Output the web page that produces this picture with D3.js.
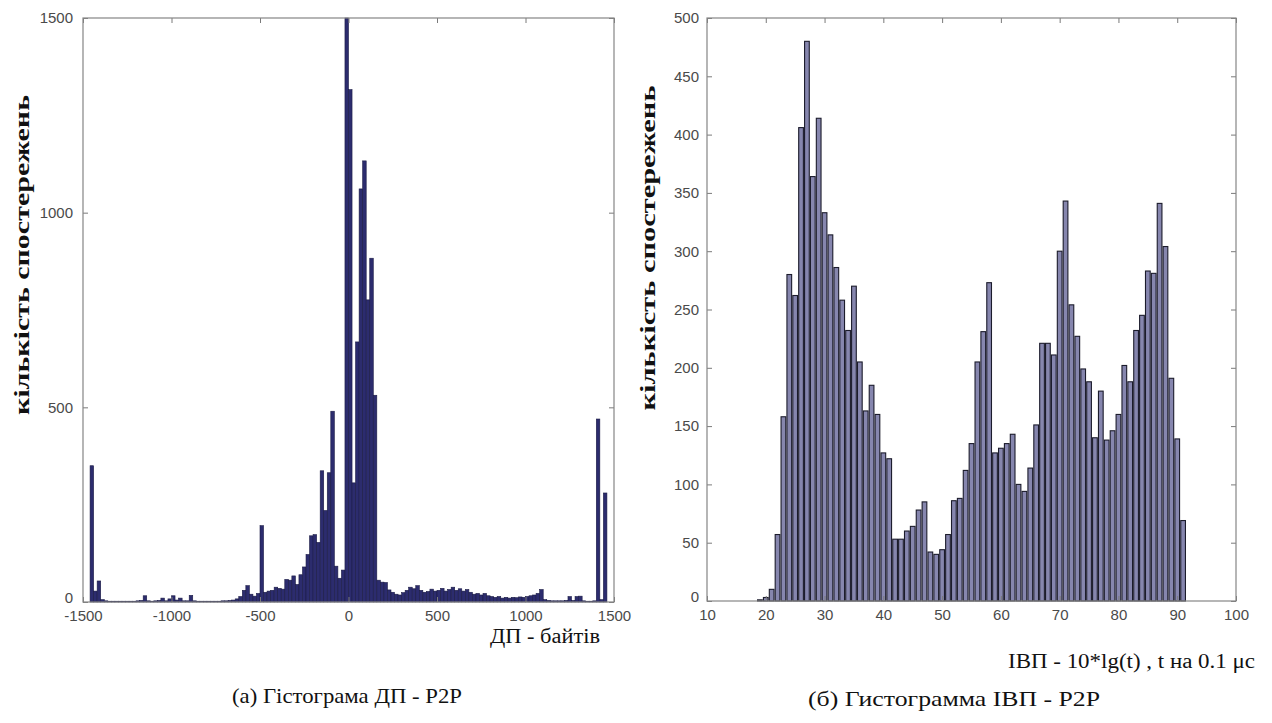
<!DOCTYPE html>
<html>
<head>
<meta charset="utf-8">
<script src="https://cdn.jsdelivr.net/npm/d3@7"></script>
<style>
  html, body { margin: 0; padding: 0; background: #fff; }
  svg { display: block; }
  .tick text { font-family: "Liberation Sans", Arial, sans-serif; fill: #4a4a4a; }
</style>
</head>
<body>
<svg id="chart" width="1272" height="723"></svg>
<script>
// ---------- Data: (a) histogram of packet length difference (ДП), bins of 20 bytes from -1500 ----------
const dpBinStart = -1500;
const dpBinWidth = 20;
const dpCounts = [
  0, 0, 350, 28, 54, 6, 3, 2, 2, 2,
  2, 2, 2, 2, 2, 3, 4, 16, 3, 2,
  3, 4, 10, 3, 8, 16, 5, 10, 3, 3,
  17, 3, 2, 2, 2, 2, 2, 2, 2, 3,
  3, 4, 5, 8, 14, 30, 42, 20, 15, 22,
  196, 25, 28, 30, 38, 35, 33, 58, 56, 67,
  45, 70, 90, 122, 170, 173, 153, 337, 235, 332,
  490, 92, 61, 82, 1500, 1316, 306, 668, 1061, 1133,
  776, 883, 531, 56, 51, 50, 31, 25, 20, 18,
  24, 30, 38, 34, 42, 30, 25, 27, 33, 28,
  30, 35, 28, 32, 38, 30, 34, 28, 32, 25,
  20, 22, 18, 22, 16, 14, 12, 14, 10, 12,
  10, 12, 11, 13, 12, 14, 16, 18, 22, 32,
  6, 4, 3, 3, 3, 3, 4, 14, 4, 14,
  15, 3, 2, 2, 3, 470, 6, 280, 0, 0
];
const dpXTicks = [-1500, -1000, -500, 0, 500, 1000, 1500];
const dpYTicks = [0, 500, 1000, 1500];

// ---------- Data: (б) histogram of inter-arrival time (ІВП), 10*lg(t) ----------
const ivpBins = [19, 20, 21, 22, 23, 24, 25, 26, 27, 28, 29, 30, 31, 32, 33, 34, 35, 36, 37, 38,
  39, 40, 41, 42, 43, 44, 45, 46, 47, 48, 49, 50, 51, 52, 53, 54, 55, 56, 57, 58,
  59, 60, 61, 62, 63, 64, 65, 66, 67, 68, 69, 70, 71, 72, 73, 74, 75, 76, 77, 78,
  79, 80, 81, 82, 83, 84, 85, 86, 87, 88, 89, 90, 91];
const ivpCounts = [1, 3, 10, 57, 158, 280, 262, 406, 480, 364, 414, 333, 314, 286, 258, 232, 270, 205, 163, 185,
  160, 127, 122, 53, 53, 60, 64, 78, 85, 42, 40, 44, 57, 86, 88, 112, 135, 205, 231, 273,
  127, 131, 135, 143, 100, 94, 114, 151, 221, 221, 211, 300, 343, 254, 227, 199, 188, 140, 180, 138,
  146, 160, 202, 188, 232, 245, 283, 281, 341, 304, 191, 139, 69];
const ivpXTicks = [10, 20, 30, 40, 50, 60, 70, 80, 90, 100];
const ivpYTicks = [0, 50, 100, 150, 200, 250, 300, 350, 400, 450, 500];

// ---------- Texts ----------
const yLabel = "кількість спостережень";
const dpXLabel = "ДП - байтів";
const ivpXLabel = "ІВП - 10*lg(t) , t на 0.1 μс";
const captionA = "(а) Гістограма  ДП - P2P";
const captionB = "(б) Гистограмма  ІВП - P2P";

const svg = d3.select("#chart");
svg.append("rect").attr("width", 1272).attr("height", 723).attr("fill", "#fff");

const serif = "'Liberation Serif', 'Times New Roman', serif";

function drawFrame(g, x, y, xTicks, yTicks, opts) {
  const [x0, x1] = x.range();
  const [y0, y1] = y.range();
  const tickColor = "#7a7a7a";
  const ax = g.append("g").attr("transform", `translate(0,${y0})`)
    .call(d3.axisBottom(x).tickValues(xTicks).tickSize(-5).tickPadding(opts.xPad).tickFormat(d => String(d)));
  ax.selectAll("text").attr("font-size", opts.fs);
  const at = g.append("g").attr("transform", `translate(0,${y1})`)
    .call(d3.axisTop(x).tickValues(xTicks).tickSize(-5).tickFormat(""));
  const al = g.append("g").attr("transform", `translate(${x0},0)`)
    .call(d3.axisLeft(y).tickValues(yTicks).tickSize(-5).tickPadding(opts.yPad).tickFormat(d => String(d)));
  al.selectAll("text").attr("font-size", opts.fs);
  // MATLAB-style: lowest y label sits a little higher, clear of the x labels
  al.selectAll(".tick").filter(d => d === 0).select("text").attr("dy", "0.05em");
  const ar = g.append("g").attr("transform", `translate(${x1},0)`)
    .call(d3.axisRight(y).tickValues(yTicks).tickSize(-5).tickFormat(""));
  [ax, at, al, ar].forEach(a => {
    a.select(".domain").remove();
    a.selectAll("line").attr("stroke", tickColor).attr("stroke-width", 1);
  });
  g.append("rect")
    .attr("x", x0).attr("y", y1).attr("width", x1 - x0).attr("height", y0 - y1)
    .attr("fill", "none").attr("stroke", "#858585").attr("stroke-width", 1.2);
}

// ---------- Chart (a) ----------
const xA = d3.scaleLinear().domain([-1500, 1500]).range([83, 614]);
const yA = d3.scaleLinear().domain([0, 1500]).range([602, 18]);
const gA = svg.append("g");
const dpData = dpCounts.map((c, i) => ({ x0: dpBinStart + i * dpBinWidth, x1: dpBinStart + (i + 1) * dpBinWidth, c }));
gA.append("g").selectAll("rect").data(dpData.filter(d => d.c > 0)).join("rect")
  .attr("x", d => xA(d.x0))
  .attr("width", d => xA(d.x1) - xA(d.x0))
  .attr("y", d => yA(d.c))
  .attr("height", d => yA(0) - yA(d.c))
  .attr("fill", "#2c2c6e")
  .attr("stroke", "#1b1b45")
  .attr("stroke-width", 0.6);
drawFrame(gA, xA, yA, dpXTicks, dpYTicks, { fs: 15, xPad: 8, yPad: 10 });

// ---------- Chart (б) ----------
const xB = d3.scaleLinear().domain([10, 100]).range([707, 1236]);
const yB = d3.scaleLinear().domain([0, 500]).range([601, 18]);
const gB = svg.append("g");
const bw = (xB(11) - xB(10)) * 0.8;
gB.append("g").selectAll("rect").data(ivpBins.map((b, i) => ({ b, c: ivpCounts[i] }))).join("rect")
  .attr("x", d => xB(d.b) - bw / 2)
  .attr("width", bw)
  .attr("y", d => yB(d.c))
  .attr("height", d => yB(0) - yB(d.c))
  .attr("fill", "#8686ae")
  .attr("stroke", "#1c1c2c")
  .attr("stroke-width", 1.1);
drawFrame(gB, xB, yB, ivpXTicks, ivpYTicks, { fs: 15, xPad: 8, yPad: 8 });

// ---------- Texts ----------
svg.append("text")
  .attr("transform", "translate(29,255) rotate(-90)")
  .attr("text-anchor", "middle")
  .attr("font-family", serif).attr("font-weight", "bold").attr("font-size", 22)
  .attr("textLength", 320).attr("lengthAdjust", "spacingAndGlyphs")
  .attr("fill", "#111").text(yLabel);
svg.append("text")
  .attr("transform", "translate(655,248) rotate(-90)")
  .attr("text-anchor", "middle")
  .attr("font-family", serif).attr("font-weight", "bold").attr("font-size", 22)
  .attr("textLength", 325).attr("lengthAdjust", "spacingAndGlyphs")
  .attr("fill", "#111").text(yLabel);

svg.append("text").attr("x", 490).attr("y", 643)
  .attr("font-family", serif).attr("font-size", 20)
  .attr("textLength", 110).attr("lengthAdjust", "spacingAndGlyphs")
  .attr("fill", "#111").text(dpXLabel);
svg.append("text").attr("x", 1008).attr("y", 668)
  .attr("font-family", serif).attr("font-size", 20)
  .attr("textLength", 247).attr("lengthAdjust", "spacingAndGlyphs")
  .attr("fill", "#111").text(ivpXLabel);

svg.append("text").attr("x", 232).attr("y", 703)
  .attr("font-family", serif).attr("font-size", 22)
  .attr("textLength", 230).attr("lengthAdjust", "spacingAndGlyphs")
  .attr("fill", "#111").text(captionA);
svg.append("text").attr("x", 808).attr("y", 706)
  .attr("font-family", serif).attr("font-size", 22)
  .attr("textLength", 292).attr("lengthAdjust", "spacingAndGlyphs")
  .attr("fill", "#111").text(captionB);
</script>
</body>
</html>
